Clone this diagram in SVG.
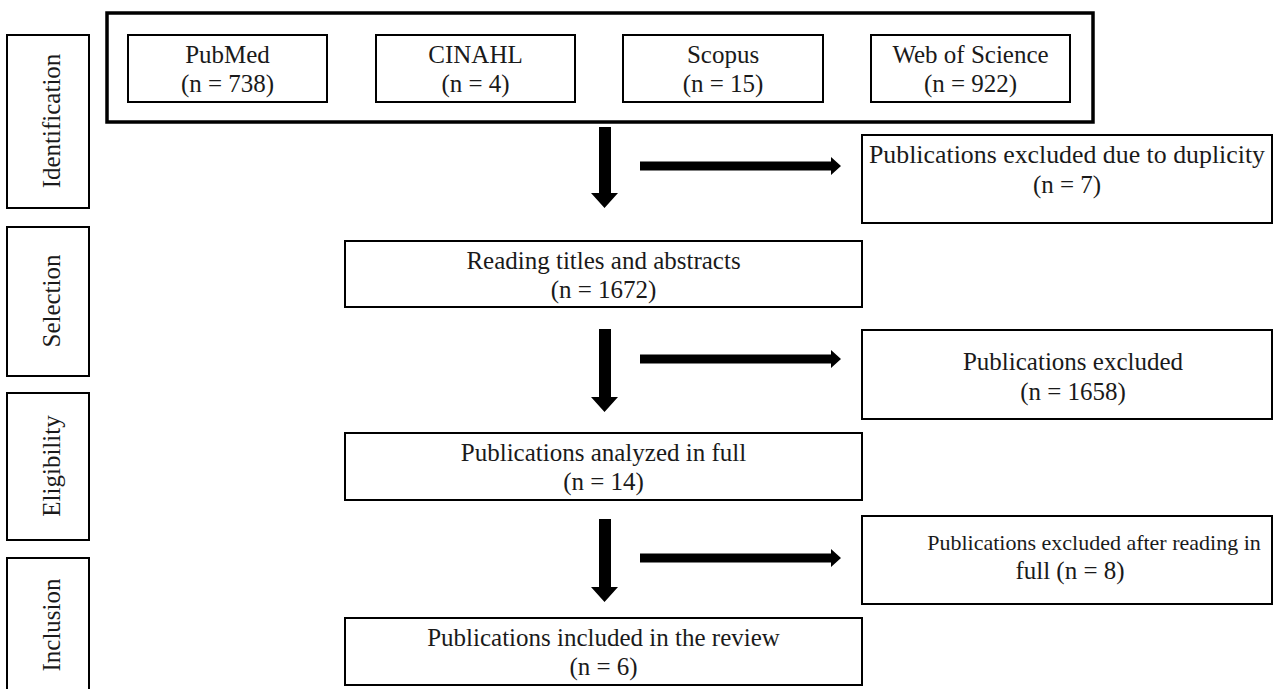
<svg xmlns="http://www.w3.org/2000/svg" width="1275" height="689" viewBox="0 0 1275 689">
<style>
  .box { fill: #ffffff; stroke: #000000; stroke-width: 2; }
  .outer { fill: #ffffff; stroke: #000000; stroke-width: 3.5; }
  .t { font-family: "Liberation Serif", "Times New Roman", serif; font-size: 25px; fill: #1a1a1a; text-anchor: middle; }
  .arr { fill: #000000; stroke: none; }
</style>
<rect width="1275" height="689" fill="#ffffff"/>

<g id="phase-identification">
  <rect class="box" x="7" y="35" width="82" height="173"/>
  <text class="t" transform="translate(60,121) rotate(-90)">Identification</text>
</g>
<g id="phase-selection">
  <rect class="box" x="7" y="227" width="82" height="149"/>
  <text class="t" transform="translate(60,301) rotate(-90)">Selection</text>
</g>
<g id="phase-eligibility">
  <rect class="box" x="7" y="393" width="82" height="147"/>
  <text class="t" transform="translate(60,466) rotate(-90)">Eligibility</text>
</g>
<g id="phase-inclusion">
  <rect class="box" x="7" y="558" width="82" height="145"/>
  <text class="t" transform="translate(60,625) rotate(-90)">Inclusion</text>
</g>

<g id="databases">
  <rect class="outer" x="107" y="13" width="986" height="109"/>
</g>
<g id="pubmed">
  <rect class="box" x="128" y="35" width="199" height="67"/>
  <text class="t" x="227.5" y="63">PubMed</text>
  <text class="t" x="227.5" y="92">(n = 738)</text>
</g>
<g id="cinahl">
  <rect class="box" x="376" y="35" width="199" height="67"/>
  <text class="t" x="475.5" y="63">CINAHL</text>
  <text class="t" x="475.5" y="92">(n = 4)</text>
</g>
<g id="scopus">
  <rect class="box" x="623" y="35" width="200" height="67"/>
  <text class="t" x="723" y="63">Scopus</text>
  <text class="t" x="723" y="92">(n = 15)</text>
</g>
<g id="wos">
  <rect class="box" x="871" y="35" width="199" height="67"/>
  <text class="t" x="970.5" y="63">Web of Science</text>
  <text class="t" x="970.5" y="92">(n = 922)</text>
</g>

<g id="excluded-duplicity">
  <rect class="box" x="862" y="135" width="410" height="88"/>
  <text class="t" x="1067" y="163" textLength="396" lengthAdjust="spacingAndGlyphs">Publications excluded due to duplicity</text>
  <text class="t" x="1067" y="193">(n = 7)</text>
</g>
<g id="reading">
  <rect class="box" x="345" y="241" width="517" height="66"/>
  <text class="t" x="603.5" y="269">Reading titles and abstracts</text>
  <text class="t" x="603.5" y="298">(n = 1672)</text>
</g>
<g id="excluded-screening">
  <rect class="box" x="862" y="330" width="410" height="89"/>
  <text class="t" x="1073" y="370">Publications excluded</text>
  <text class="t" x="1073" y="400">(n = 1658)</text>
</g>
<g id="analyzed">
  <rect class="box" x="345" y="433" width="517" height="67"/>
  <text class="t" x="603.5" y="461">Publications analyzed in full</text>
  <text class="t" x="603.5" y="490">(n = 14)</text>
</g>
<g id="excluded-fulltext">
  <rect class="box" x="862" y="516" width="410" height="88"/>
  <text class="t" x="1094" y="550" style="font-size:22px">Publications excluded after reading in</text>
  <text class="t" x="1070" y="579">full (n = 8)</text>
</g>
<g id="included">
  <rect class="box" x="345" y="618" width="517" height="67"/>
  <text class="t" x="603.5" y="646">Publications included in the review</text>
  <text class="t" x="603.5" y="675">(n = 6)</text>
</g>

<g id="connectors">
  <polygon class="arr" points="599,127 611,127 611,193 618,193 604.5,208 591,193 599,193"/>
  <polygon class="arr" points="640,161.5 831,161.5 831,157 841,166 831,175 831,170.5 640,170.5"/>
  <polygon class="arr" points="599,329 611,329 611,397 618,397 604.5,412 591,397 599,397"/>
  <polygon class="arr" points="640,354.5 831,354.5 831,350 841,359 831,368 831,363.5 640,363.5"/>
  <polygon class="arr" points="599,519 611,519 611,587 618,587 604.5,602 591,587 599,587"/>
  <polygon class="arr" points="640,553.5 831,553.5 831,549 841,558 831,567 831,562.5 640,562.5"/>
</g>
</svg>
